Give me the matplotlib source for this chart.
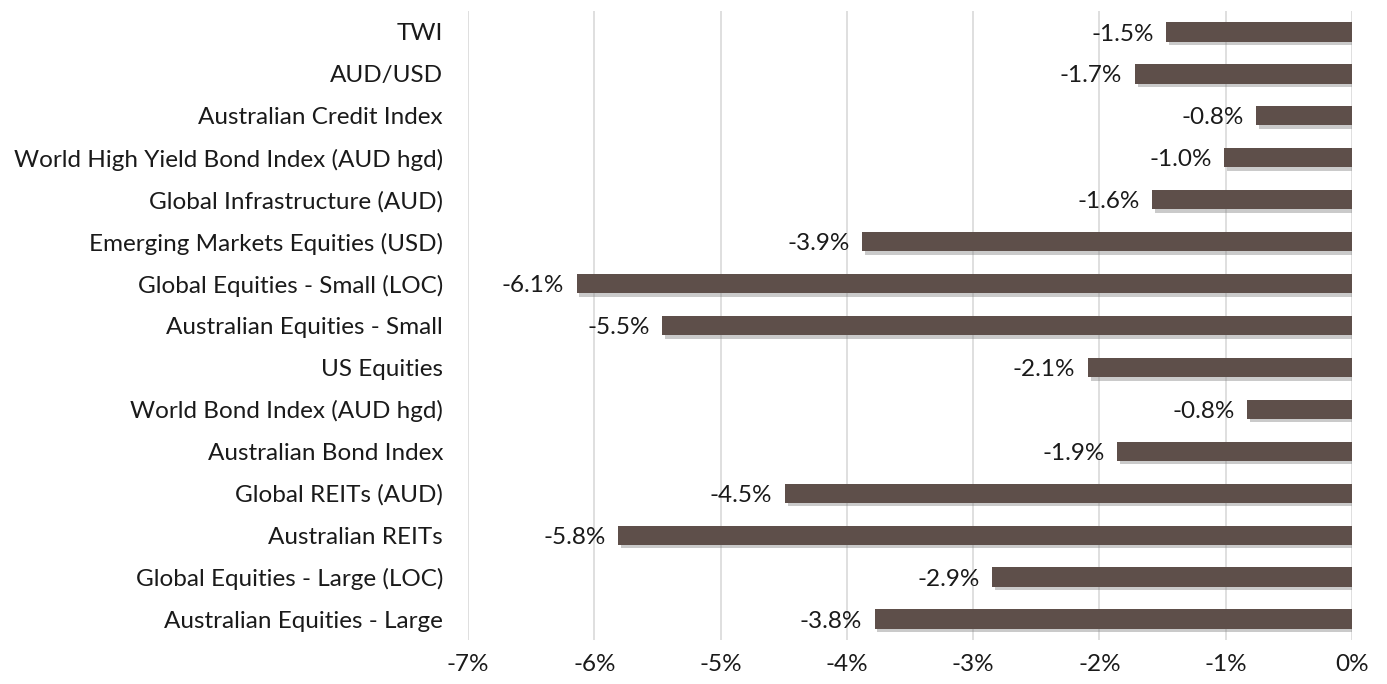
import matplotlib
matplotlib.use("Agg")
import matplotlib.pyplot as plt
import matplotlib.patheffects as pe

categories = [
    "TWI",
    "AUD/USD",
    "Australian Credit Index",
    "World High Yield Bond Index (AUD hgd)",
    "Global Infrastructure (AUD)",
    "Emerging Markets Equities (USD)",
    "Global Equities - Small (LOC)",
    "Australian Equities - Small",
    "US Equities",
    "World Bond Index (AUD hgd)",
    "Australian Bond Index",
    "Global REITs (AUD)",
    "Australian REITs",
    "Global Equities - Large (LOC)",
    "Australian Equities - Large",
]
values = [-1.47, -1.72, -0.76, -1.01, -1.58, -3.88, -6.14, -5.46, -2.09,
          -0.83, -1.86, -4.49, -5.81, -2.85, -3.78]
xticks = [-7, -6, -5, -4, -3, -2, -1, 0]

plt.rcParams['font.family'] = ['Lato', 'DejaVu Sans']

fig = plt.figure(figsize=(13.87, 6.84), dpi=100)
ax = fig.add_axes([468/1387, 44/684, (1352-468)/1387, (640-11)/684])

ypos = list(range(len(categories)))
bars = ax.barh(ypos, values, height=0.46, color="#5E4F4A", zorder=3)
for b in bars:
    b.set_path_effects([pe.SimplePatchShadow(offset=(2, -2.5), shadow_rgbFace="#8a8a8a", alpha=0.45),
                        pe.Normal()])

for y, v in zip(ypos, values):
    ax.text(v - 0.1, y + 0.05, f"{v:.1f}%", ha="right", va="center", fontsize=17.5, color="#1a1a1a")

ax.set_xlim(-7, 0)
ax.set_ylim(len(categories) - 0.5, -0.5)
ax.set_yticks(ypos)
ax.set_yticklabels(categories, fontsize=17.5, color="#1a1a1a")
ax.set_xticks(xticks)
ax.set_xticklabels([f"{t}%" for t in xticks], fontsize=17.5, color="#1a1a1a")
ax.tick_params(axis="both", length=0)
ax.tick_params(axis="y", pad=18)
ax.tick_params(axis="x", pad=10)
for s in ax.spines.values():
    s.set_visible(False)
ax.grid(axis="x", color="#D9D9D9", linewidth=1.2, zorder=0)
ax.set_axisbelow(True)

fig.savefig("out.png", dpi=100)
